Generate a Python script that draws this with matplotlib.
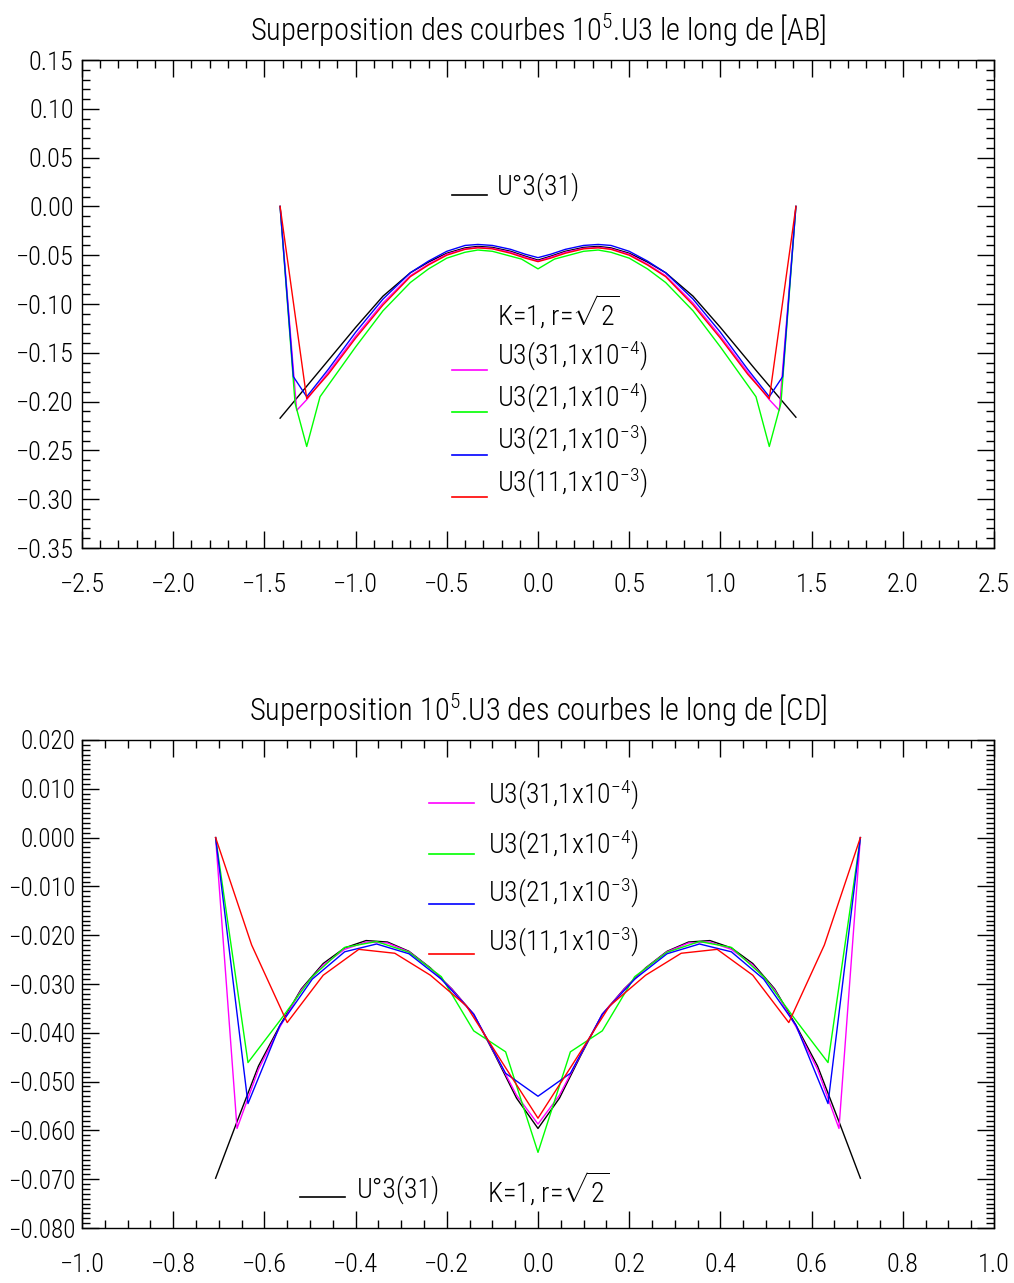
import numpy as np
import matplotlib
matplotlib.use("Agg")
import matplotlib.pyplot as plt
from matplotlib import font_manager
from matplotlib.lines import Line2D
from matplotlib.ticker import MultipleLocator, FuncFormatter

# ---- data: profile along [AB] (top) ----
ab_x_exact = [-1.414, -1.2, -1.0, -0.85, -0.7, -0.6, -0.5, -0.4, -0.33, -0.25, -0.15, -0.07, 0.0,
              0.07, 0.15, 0.25, 0.33, 0.4, 0.5, 0.6, 0.7, 0.85, 1.0, 1.2, 1.414]
ab_y_exact = [-0.217, -0.169, -0.124, -0.092, -0.068, -0.057, -0.048, -0.0425, -0.041, -0.042, -0.046, -0.051, -0.055,
              -0.051, -0.046, -0.042, -0.041, -0.0425, -0.048, -0.057, -0.068, -0.092, -0.124, -0.169, -0.216]

ab_x_m = [-1.414, -1.323, -1.268, -1.15, -1.0, -0.85, -0.7, -0.6, -0.5, -0.4, -0.33, -0.25, -0.15, -0.07, 0.0,
          0.07, 0.15, 0.25, 0.33, 0.4, 0.5, 0.6, 0.7, 0.85, 1.0, 1.15, 1.268, 1.323, 1.414]
ab_y_m = [0.0, -0.209, -0.198, -0.170, -0.133, -0.099, -0.071, -0.059, -0.049, -0.0435, -0.042, -0.043, -0.047, -0.052, -0.056,
          -0.052, -0.047, -0.043, -0.042, -0.0435, -0.049, -0.059, -0.071, -0.099, -0.133, -0.170, -0.198, -0.209, 0.0]

ab_x_g = [-1.414, -1.332, -1.268, -1.195, -1.0, -0.85, -0.7, -0.6, -0.5, -0.4, -0.33, -0.25, -0.15, -0.09, 0.0,
          0.09, 0.15, 0.25, 0.33, 0.4, 0.5, 0.6, 0.7, 0.85, 1.0, 1.195, 1.268, 1.332, 1.414]
ab_y_g = [0.0, -0.2015, -0.246, -0.195, -0.144, -0.107, -0.078, -0.064, -0.053, -0.047, -0.0447, -0.046, -0.051, -0.054, -0.064,
          -0.054, -0.051, -0.046, -0.0447, -0.047, -0.053, -0.064, -0.078, -0.107, -0.144, -0.195, -0.246, -0.2015, 0.0]

ab_x_b = [-1.414, -1.341, -1.268, -1.15, -1.0, -0.85, -0.7, -0.6, -0.5, -0.4, -0.33, -0.25, -0.15, -0.07, 0.0,
          0.07, 0.15, 0.25, 0.33, 0.4, 0.5, 0.6, 0.7, 0.85, 1.0, 1.15, 1.268, 1.341, 1.414]
ab_y_b = [0.0, -0.1745, -0.195, -0.167, -0.129, -0.095, -0.068, -0.056, -0.046, -0.040, -0.039, -0.040, -0.044, -0.049, -0.0525,
          -0.049, -0.044, -0.040, -0.039, -0.040, -0.046, -0.056, -0.068, -0.095, -0.129, -0.167, -0.195, -0.1745, 0.0]

ab_x_r = [-1.414, -1.268, -1.15, -1.0, -0.85, -0.7, -0.6, -0.5, -0.4, -0.33, -0.25, -0.15, -0.07, 0.0,
          0.07, 0.15, 0.25, 0.33, 0.4, 0.5, 0.6, 0.7, 0.85, 1.0, 1.15, 1.268, 1.414]
ab_y_r = [0.0, -0.197, -0.172, -0.135, -0.101, -0.072, -0.060, -0.050, -0.044, -0.0425, -0.0435, -0.048, -0.053, -0.0566,
          -0.053, -0.048, -0.0435, -0.0425, -0.044, -0.050, -0.060, -0.072, -0.101, -0.135, -0.172, -0.197, 0.0]

# ---- data: profile along [CD] (bottom) ----
cd_x31 = [-0.707, -0.660, -0.613, -0.566, -0.519, -0.471, -0.424, -0.377, -0.330, -0.283, -0.236, -0.189, -0.141, -0.094, -0.047, 0.0,
          0.047, 0.094, 0.141, 0.189, 0.236, 0.283, 0.330, 0.377, 0.424, 0.471, 0.519, 0.566, 0.613, 0.660, 0.707]
cd_y_exact = [-0.0698, -0.0582, -0.0468, -0.0385, -0.0310, -0.0258, -0.0226, -0.0211, -0.0214, -0.0233, -0.0267, -0.0310, -0.0362, -0.0446, -0.0534, -0.0596,
              -0.0534, -0.0446, -0.0362, -0.0310, -0.0267, -0.0233, -0.0214, -0.0211, -0.0226, -0.0258, -0.0310, -0.0385, -0.0468, -0.0582, -0.0698]
cd_y_m = [0.0, -0.0596, -0.0475, -0.0388, -0.0312, -0.0261, -0.0229, -0.0214, -0.0216, -0.0234, -0.0268, -0.0311, -0.0362, -0.0444, -0.0528, -0.0587,
          -0.0528, -0.0444, -0.0362, -0.0311, -0.0268, -0.0234, -0.0216, -0.0214, -0.0229, -0.0261, -0.0312, -0.0388, -0.0475, -0.0596, 0.0]

cd_x21 = [-0.707, -0.636, -0.566, -0.495, -0.424, -0.354, -0.283, -0.212, -0.141, -0.071, 0.0,
          0.071, 0.141, 0.212, 0.283, 0.354, 0.424, 0.495, 0.566, 0.636, 0.707]
cd_y_g = [0.0, -0.0461, -0.0375, -0.0285, -0.0225, -0.0213, -0.0235, -0.0285, -0.0396, -0.0439, -0.0645,
          -0.0439, -0.0396, -0.0285, -0.0235, -0.0213, -0.0225, -0.0285, -0.0375, -0.0461, 0.0]
cd_y_b = [0.0, -0.0545, -0.0385, -0.0290, -0.0234, -0.0218, -0.0238, -0.0290, -0.0362, -0.0483, -0.0530,
          -0.0483, -0.0362, -0.0290, -0.0238, -0.0218, -0.0234, -0.0290, -0.0385, -0.0545, 0.0]

cd_x11 = [-0.707, -0.628, -0.550, -0.471, -0.393, -0.314, -0.236, -0.157, -0.079, 0.0,
          0.079, 0.157, 0.236, 0.314, 0.393, 0.471, 0.550, 0.628, 0.707]
cd_y_r = [0.0, -0.0220, -0.0379, -0.0282, -0.0229, -0.0237, -0.0282, -0.0345, -0.0460, -0.0575,
          -0.0460, -0.0345, -0.0282, -0.0237, -0.0229, -0.0282, -0.0379, -0.0220, 0.0]

lab_m = 'U3(31,1x10$^{-4}$)'
lab_g = 'U3(21,1x10$^{-4}$)'
lab_b = 'U3(21,1x10$^{-3}$)'
lab_r = 'U3(11,1x10$^{-3}$)'
lab_exact = 'U\u00b03(31)'
lab_k = 'K=1, r=$\\sqrt{2}$'

MAG, GRN, BLU, RED = '#ff00ff', '#00ff00', '#0000ff', '#ff0000'

# ---- fonts ----
names = {f.name for f in font_manager.fontManager.ttflist}
fam = 'DejaVu Sans'
for cand in ['Liberation Sans Narrow', 'Roboto Condensed', 'Liberation Sans']:
    if cand in names:
        fam = cand
        break
plt.rcParams['font.family'] = [fam, 'DejaVu Sans']
plt.rcParams['font.weight'] = 'light'
plt.rcParams['axes.titleweight'] = 'light'
plt.rcParams['mathtext.fontset'] = 'custom'
plt.rcParams['mathtext.rm'] = fam + ':light'
plt.rcParams['mathtext.it'] = fam + ':light'
plt.rcParams['mathtext.default'] = 'regular'

W, H = 1014, 1283
fig = plt.figure(figsize=(W / 100, H / 100), dpi=100)


def fx(x):
    return x / W


def fy(y):
    return 1 - y / H


def minus_fmt(fmt):
    return FuncFormatter(lambda v, p: (fmt % v).replace('-', '\u2212'))


def style_axes(ax, xmaj, xmin, ymaj, ymin, yfmt, xfmt):
    ax.xaxis.set_major_locator(MultipleLocator(xmaj))
    ax.xaxis.set_minor_locator(MultipleLocator(xmin))
    ax.yaxis.set_major_locator(MultipleLocator(ymaj))
    ax.yaxis.set_minor_locator(MultipleLocator(ymin))
    ax.xaxis.set_major_formatter(minus_fmt(xfmt))
    ax.yaxis.set_major_formatter(minus_fmt(yfmt))
    ax.tick_params(which='both', direction='in', top=True, right=True, width=1.0, color='black')
    ax.tick_params(which='major', length=12, labelsize=19)
    ax.tick_params(axis='x', which='major', pad=18)
    ax.tick_params(axis='y', which='major', pad=6)
    ax.tick_params(which='minor', length=6)
    for s in ax.spines.values():
        s.set_linewidth(1.0)


def legend_line(x0, x1, y, color):
    fig.add_artist(Line2D([fx(x0), fx(x1)], [fy(y), fy(y)], transform=fig.transFigure, color=color, lw=1.2))


def label(x, y, s):
    fig.text(fx(x), fy(y), s, fontsize=20, ha='left', va='center')


# ---- top panel ----
ax1 = fig.add_axes([fx(82), fy(548), (994 - 82) / W, 488 / H])
ax1.plot(ab_x_exact, ab_y_exact, color='black', lw=1.0)
ax1.plot(ab_x_m, ab_y_m, color=MAG, lw=1.0)
ax1.plot(ab_x_g, ab_y_g, color=GRN, lw=1.0)
ax1.plot(ab_x_b, ab_y_b, color=BLU, lw=1.0)
ax1.plot(ab_x_r, ab_y_r, color=RED, lw=1.0)
ax1.set_xlim(-2.5, 2.5)
ax1.set_ylim(-0.35, 0.15)
style_axes(ax1, 0.5, 0.1, 0.05, 0.01, '%.2f', '%.1f')
ax1.set_title('Superposition des courbes 10$^5$.U3 le long de [AB]', fontsize=22, pad=14)

legend_line(452, 487, 195, 'black')
label(497, 187, lab_exact)
label(497, 313, lab_k)
for yl, yt, c, s in [(370, 356, MAG, lab_m), (412, 398, GRN, lab_g), (455, 440, BLU, lab_b), (497, 483, RED, lab_r)]:
    legend_line(452, 487, yl, c)
    label(497, yt, s)

# ---- bottom panel ----
ax2 = fig.add_axes([fx(82), fy(1228), (994 - 82) / W, 488 / H])
ax2.plot(cd_x31, cd_y_exact, color='black', lw=1.0)
ax2.plot(cd_x31, cd_y_m, color=MAG, lw=1.0)
ax2.plot(cd_x21, cd_y_g, color=GRN, lw=1.0)
ax2.plot(cd_x21, cd_y_b, color=BLU, lw=1.0)
ax2.plot(cd_x11, cd_y_r, color=RED, lw=1.0)
ax2.set_xlim(-1.0, 1.0)
ax2.set_ylim(-0.08, 0.02)
style_axes(ax2, 0.2, 0.05, 0.01, 0.001, '%.3f', '%.1f')
ax2.tick_params(axis='y', which='major', labelsize=18, pad=5)
ax2.set_title('Superposition 10$^5$.U3 des courbes le long de [CD]', fontsize=22, pad=14)

for yl, yt, c, s in [(803, 795, MAG, lab_m), (854, 845, GRN, lab_g), (904, 893, BLU, lab_b), (954, 942, RED, lab_r)]:
    legend_line(429, 474, yl, c)
    label(488, yt, s)
legend_line(300, 345, 1197, 'black')
label(357, 1190, lab_exact)
label(487, 1190, lab_k)

fig.savefig('out.png', dpi=100)
